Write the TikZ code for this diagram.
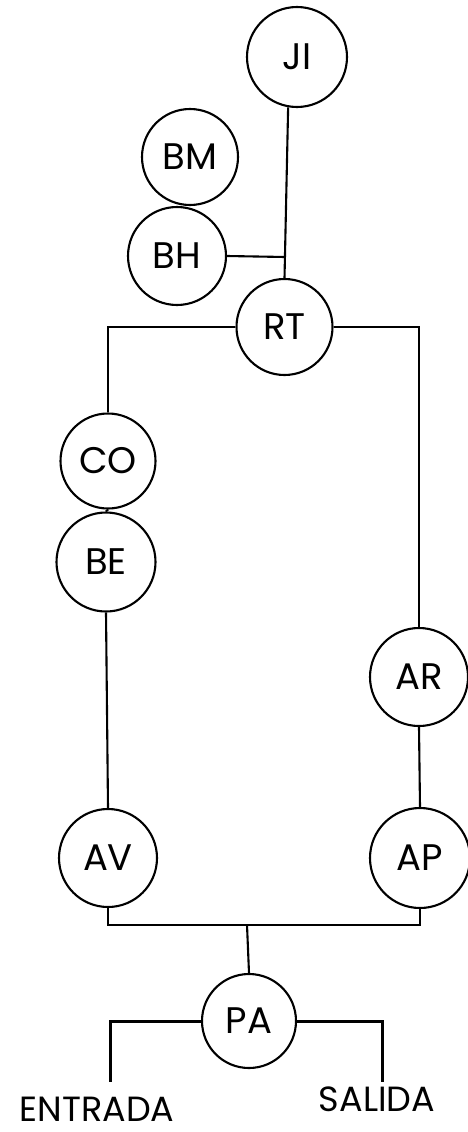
\documentclass[tikz,border=0pt]{standalone}
\usepackage{fontspec}
\setmainfont{Poppins}
\usetikzlibrary{positioning, calc}

\begin{document}
\begin{tikzpicture}[x=1pt, y=-1pt,
    sta/.style={circle, draw, line width=2.1pt, minimum size=98pt, inner sep=0pt,
                font=\fontsize{37}{37}\selectfont},
    link/.style={line width=2.1pt},
    pipe/.style={line width=3pt},
    lbl/.style={font=\fontsize{35}{35}\selectfont, inner sep=0pt, anchor=base}
]
    \useasboundingbox (0,0) rectangle (468,1132);

    % Upper group
    \node[sta, minimum size=100pt] (JI) at (297,57) {JI};
    \node[sta, minimum size=96pt] (BM) at (190,157) {BM};
    \node[sta] (BH) at (177,256) {BH};
    \node[sta, minimum size=96pt] (RT) at (284.5,327) {RT};

    % Left branch
    \node[sta, minimum size=95pt] (CO) at (108,461) {CO};
    \node[sta, minimum size=99pt] (BE) at (106,562) {BE};
    \node[sta] (AV) at (108,858) {AV};

    % Right branch
    \node[sta] (AR) at (419,677) {AR};
    \node[sta, minimum size=100pt] (AP) at (420,858) {AP};

    % Bottom
    \node[sta, minimum size=94pt] (PA) at (249,1021) {PA};
    \node[lbl] (ent) at (97,1121) {ENTRADA};
    \node[lbl] (sal) at (377,1111) {SALIDA};

    % Connections
    \coordinate (jb) at (285,257);
    \coordinate (jm) at (247,925);
    \coordinate (ein) at (110,1082);
    \coordinate (sin) at (382,1082);

    \draw[link] (JI.-100) -- (RT.north);
    \draw[link] (BH.east) -- (jb);
    \draw[link] (RT.west) -| (CO.north);
    \draw[link] (CO.south) -- (BE.north);
    \draw[link] (BE.south) -- (AV.north);
    \draw[link] (RT.east) -| (AR.north);
    \draw[link] (AR.south) -- (AP.north);
    \draw[link] (AV.south) |- (jm) -| (AP.south);
    \draw[link] (jm) -- (PA.north);
    \draw[pipe] (PA.west) -| (ein);
    \draw[pipe] (PA.east) -| (sin);
\end{tikzpicture}
\end{document}
